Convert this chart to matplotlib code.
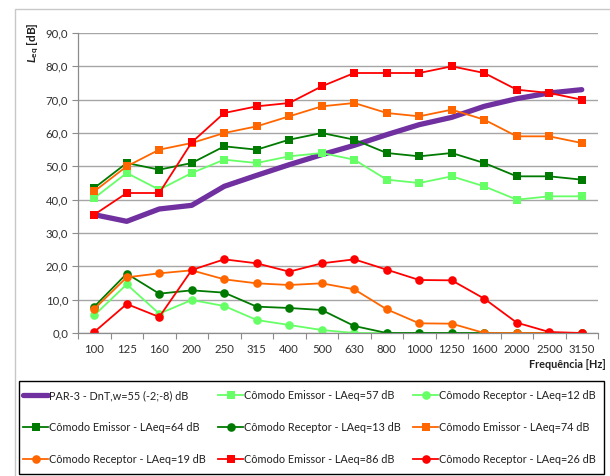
import matplotlib
matplotlib.use("Agg")
import matplotlib.pyplot as plt
from matplotlib.patches import Rectangle

plt.rcParams['font.family'] = ['Lato', 'DejaVu Sans']
plt.rcParams['mathtext.fontset'] = 'custom'
plt.rcParams['mathtext.it'] = 'Lato:italic:bold'
plt.rcParams['mathtext.bf'] = 'Lato:bold'
plt.rcParams['mathtext.rm'] = 'Lato'

# ------------------------------------------------------------------
# data (third-octave bands, dB)
# ------------------------------------------------------------------
FREQS = ["100", "125", "160", "200", "250", "315", "400", "500", "630",
         "800", "1000", "1250", "1600", "2000", "2500", "3150"]

par3 = [35.5, 33.5, 37.2, 38.3, 44.0, 47.3, 50.5, 53.5, 56.3, 59.5,
        62.5, 64.7, 68.0, 70.3, 72.0, 73.0]

emissor_57 = [40.5, 48, 43, 48, 52, 51, 53, 54, 52, 46, 45, 47, 44, 40, 41, 41]
receptor_12 = [5.3, 14.6, 5.8, 9.9, 8.1, 3.9, 2.4, 0.9, 0, 0, 0, 0, 0, 0, 0, 0]
emissor_64 = [43.5, 51, 49, 51, 56, 55, 58, 60, 58, 54, 53, 54, 51, 47, 47, 46]
receptor_13 = [7.9, 17.8, 11.8, 12.8, 12.1, 7.9, 7.5, 6.9, 2.1, 0, 0, 0, 0, 0, 0, 0]
emissor_74 = [42.5, 50, 55, 57, 60, 62, 65, 68, 69, 66, 65, 67, 64, 59, 59, 57]
receptor_19 = [7.2, 16.7, 17.9, 18.8, 16.1, 14.9, 14.4, 14.9, 13.1, 7.1,
               2.9, 2.8, 0, 0, 0, 0]
emissor_86 = [35.5, 42, 42, 57.2, 66, 68, 69, 74, 78, 78, 78, 80, 78, 73, 72, 70]
receptor_26 = [0.3, 8.7, 4.8, 18.9, 22.1, 20.9, 18.4, 20.9, 22.1, 19.0,
               15.9, 15.8, 10.3, 3.1, 0.3, 0.0]

LT_GREEN = "#66FF66"
DK_GREEN = "#007A00"
ORANGE = "#FF6600"
RED = "#FF0000"
PURPLE = "#7030A0"

# ------------------------------------------------------------------
# figure
# ------------------------------------------------------------------
W, H = 610, 476
fig = plt.figure(figsize=(W / 100, H / 100), dpi=100)
ax = fig.add_axes([78 / W, 1 - 333 / H, 520 / W, 300 / H])

# chart-area frame
fig.add_artist(Rectangle((15 / W, -0.1), 2.0, 1 - 9 / H + 0.1,
                         transform=fig.transFigure, fill=False,
                         edgecolor="#c8c8c8", lw=1.0))

x = list(range(len(FREQS)))
lines = []
l, = ax.plot(x, par3, color=PURPLE, lw=3.8, solid_capstyle="round",
             label="PAR-3 - DnT,w=55 (-2;-8) dB")
lines.append(l)

series = [
    (emissor_57, LT_GREEN, "s", "Cômodo Emissor - LAeq=57 dB"),
    (receptor_12, LT_GREEN, "o", "Cômodo Receptor - LAeq=12 dB"),
    (emissor_64, DK_GREEN, "s", "Cômodo Emissor - LAeq=64 dB"),
    (receptor_13, DK_GREEN, "o", "Cômodo Receptor - LAeq=13 dB"),
    (emissor_74, ORANGE, "s", "Cômodo Emissor - LAeq=74 dB"),
    (receptor_19, ORANGE, "o", "Cômodo Receptor - LAeq=19 dB"),
    (emissor_86, RED, "s", "Cômodo Emissor - LAeq=86 dB"),
    (receptor_26, RED, "o", "Cômodo Receptor - LAeq=26 dB"),
]
for vals, col, mk, lab in series:
    l, = ax.plot(x, vals, color=col, lw=1.3, marker=mk, markersize=6.2,
                 markeredgewidth=0, label=lab)
    lines.append(l)

ax.set_xlim(-0.5, len(FREQS) - 0.5)
ax.set_ylim(0, 90)
ax.set_yticks(range(0, 91, 10))
ax.set_yticklabels([f"{v},0" for v in range(0, 91, 10)])
ax.set_xticks(x)
ax.set_xticklabels(FREQS)
ax.set_xticks([i - 0.5 for i in range(len(FREQS) + 1)], minor=True)
ax.tick_params(axis="x", which="major", length=0, pad=8, labelsize=8.2,
               labelcolor="#303030")
ax.tick_params(axis="x", which="minor", length=4, color="#8c8c8c", width=0.8)
ax.tick_params(axis="y", length=4, color="#8c8c8c", width=0.8, labelsize=8.2,
               labelcolor="#303030", pad=3)

ax.grid(axis="y", color="#a6a6a6", lw=1.0)
ax.set_axisbelow(True)
for side in ["top", "right"]:
    ax.spines[side].set_visible(False)
for side in ["left", "bottom"]:
    ax.spines[side].set_color("#8c8c8c")
    ax.spines[side].set_linewidth(0.9)

fig.text(606 / W, 1 - 365 / H, "Frequência [Hz]", ha="right", va="center",
         fontsize=7.8, fontweight="bold", color="#202020")
fig.text(33 / W, 1 - 43 / H, r"$\mathit{L}_{\mathbf{eq}}$ [dB]", rotation=90,
         ha="center", va="center", fontsize=8.5, fontweight="bold",
         color="#202020")

# legend frame drawn separately, one single-column legend per column inside
fig.add_artist(Rectangle((19 / W, 1 - 474 / H), 585 / W, 93 / H,
                         transform=fig.transFigure, fill=False,
                         edgecolor="black", lw=1.0))

columns = [[0, 3, 6], [1, 4, 7], [2, 5, 8]]
col_x = [23, 218, 413]
for idx, cx in zip(columns, col_x):
    hs = [lines[i] for i in idx]
    leg = fig.legend(hs, [h.get_label() for h in hs], ncol=1,
                     loc="center left",
                     bbox_to_anchor=(cx / W, 1 - 474 / H, 0.01, 93 / H),
                     fontsize=7.8, frameon=False, borderpad=0.0,
                     handlelength=2.35, handletextpad=0.05, labelspacing=1.95,
                     borderaxespad=0.0)
    for t in leg.get_texts():
        t.set_color("#202020")

fig.savefig("out.png", dpi=100)
